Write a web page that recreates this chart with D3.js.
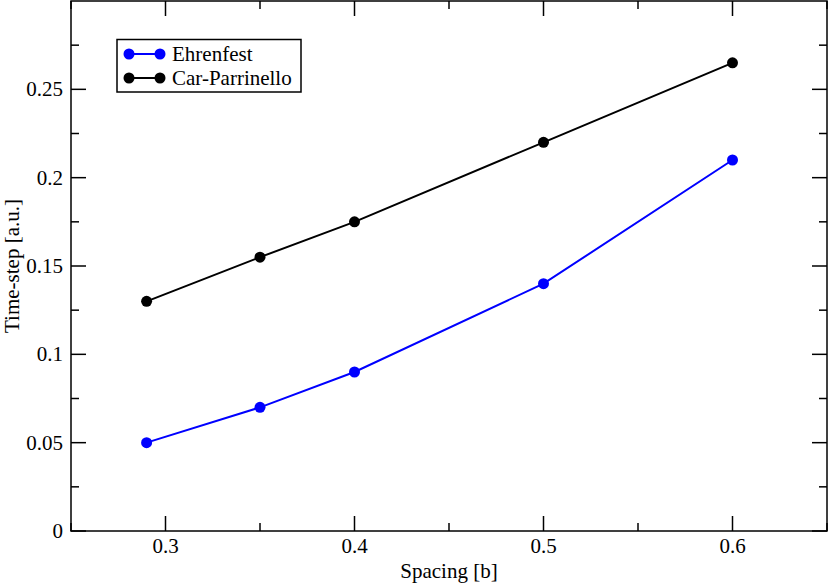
<!DOCTYPE html>
<html>
<head>
<meta charset="utf-8">
<script src="https://cdn.jsdelivr.net/npm/d3@7"></script>
<style>
  body { margin: 0; background: #fff; }
  svg text { font-family: "Times New Roman", Times, "Liberation Serif", serif; }
</style>
</head>
<body>
<div id="chart"></div>
<script>
const width = 830;
const height = 583;
const margin = { left: 71, right: 3, top: 1, bottom: 52 };

// data
const spacing = [0.29, 0.35, 0.4, 0.5, 0.6];
const ehrenfest = [0.05, 0.07, 0.09, 0.14, 0.21];
const carParrinello = [0.13, 0.155, 0.175, 0.22, 0.265];
const xTicks = [0.3, 0.4, 0.5, 0.6];
const yTicks = [0, 0.05, 0.1, 0.15, 0.2, 0.25];

const series = [
    { name: "Ehrenfest", values: ehrenfest, color: "#0000ff" },
    { name: "Car-Parrinello", values: carParrinello, color: "#000000" }
];

const fontSize = 21;

const x = d3.scaleLinear().domain([0.25, 0.65]).range([margin.left, width - margin.right]);
const y = d3.scaleLinear().domain([0, 0.3]).range([height - margin.bottom, margin.top]);

const svg = d3.select("#chart").append("svg")
    .attr("width", width)
    .attr("height", height);

const x0 = x.range()[0], x1 = x.range()[1];
const y0 = y.range()[0], y1 = y.range()[1];

// frame
svg.append("rect")
    .attr("x", x0).attr("y", y1)
    .attr("width", x1 - x0).attr("height", y0 - y1)
    .attr("fill", "none").attr("stroke", "#000").attr("stroke-width", 1.5);

// ticks (inward, all four sides)
const xMinor = d3.range(0.25, 0.651, 0.05).filter(v => !xTicks.some(t => Math.abs(t - v) < 1e-6));
const yMinor = d3.range(0.025, 0.3, 0.05);

function xTickLines(vals, len) {
    vals.forEach(v => {
        svg.append("line").attr("x1", x(v)).attr("x2", x(v)).attr("y1", y0).attr("y2", y0 - len)
            .attr("stroke", "#000").attr("stroke-width", 1.5);
        svg.append("line").attr("x1", x(v)).attr("x2", x(v)).attr("y1", y1).attr("y2", y1 + len)
            .attr("stroke", "#000").attr("stroke-width", 1.5);
    });
}
function yTickLines(vals, len) {
    vals.forEach(v => {
        svg.append("line").attr("y1", y(v)).attr("y2", y(v)).attr("x1", x0).attr("x2", x0 + len)
            .attr("stroke", "#000").attr("stroke-width", 1.5);
        svg.append("line").attr("y1", y(v)).attr("y2", y(v)).attr("x1", x1).attr("x2", x1 - len)
            .attr("stroke", "#000").attr("stroke-width", 1.5);
    });
}
xTickLines(xTicks, 15);
xTickLines(xMinor, 8);
yTickLines(yTicks, 15);
yTickLines(yMinor, 8);

// tick labels
svg.selectAll(".xl").data(xTicks).enter().append("text")
    .attr("x", d => x(d)).attr("y", y0 + 22)
    .attr("text-anchor", "middle").attr("font-size", fontSize)
    .text(d => d3.format("")(d));

svg.selectAll(".yl").data(yTicks).enter().append("text")
    .attr("x", x0 - 8).attr("y", d => y(d) + 7)
    .attr("text-anchor", "end").attr("font-size", fontSize)
    .text(d => d3.format("")(d));

// axis titles
svg.append("text")
    .attr("x", (x0 + x1) / 2).attr("y", 578)
    .attr("text-anchor", "middle").attr("font-size", fontSize)
    .text("Spacing [b]");

svg.append("text")
    .attr("transform", `translate(19,${(y0 + y1) / 2}) rotate(-90)`)
    .attr("text-anchor", "middle").attr("font-size", fontSize)
    .text("Time-step [a.u.]");

// lines and points
const line = d3.line().x((d, i) => x(spacing[i])).y(d => y(d));

series.forEach(s => {
    svg.append("path")
        .datum(s.values)
        .attr("d", line)
        .attr("fill", "none")
        .attr("stroke", s.color)
        .attr("stroke-width", 2);
    svg.selectAll(null).data(s.values).enter().append("circle")
        .attr("cx", (d, i) => x(spacing[i]))
        .attr("cy", d => y(d))
        .attr("r", 5.5)
        .attr("fill", s.color);
});

// legend
const legend = svg.append("g");
legend.append("rect")
    .attr("x", 117).attr("y", 39.5)
    .attr("width", 184).attr("height", 52.5)
    .attr("fill", "#fff").attr("stroke", "#000").attr("stroke-width", 1.5);

series.forEach((s, i) => {
    const ly = 54 + i * 24;
    legend.append("line")
        .attr("x1", 129).attr("x2", 160).attr("y1", ly).attr("y2", ly)
        .attr("stroke", s.color).attr("stroke-width", 2);
    legend.append("circle").attr("cx", 129).attr("cy", ly).attr("r", 5.5).attr("fill", s.color);
    legend.append("circle").attr("cx", 160).attr("cy", ly).attr("r", 5.5).attr("fill", s.color);
    legend.append("text")
        .attr("x", 172).attr("y", ly + 7)
        .attr("font-size", fontSize)
        .text(s.name);
});
</script>
</body>
</html>
